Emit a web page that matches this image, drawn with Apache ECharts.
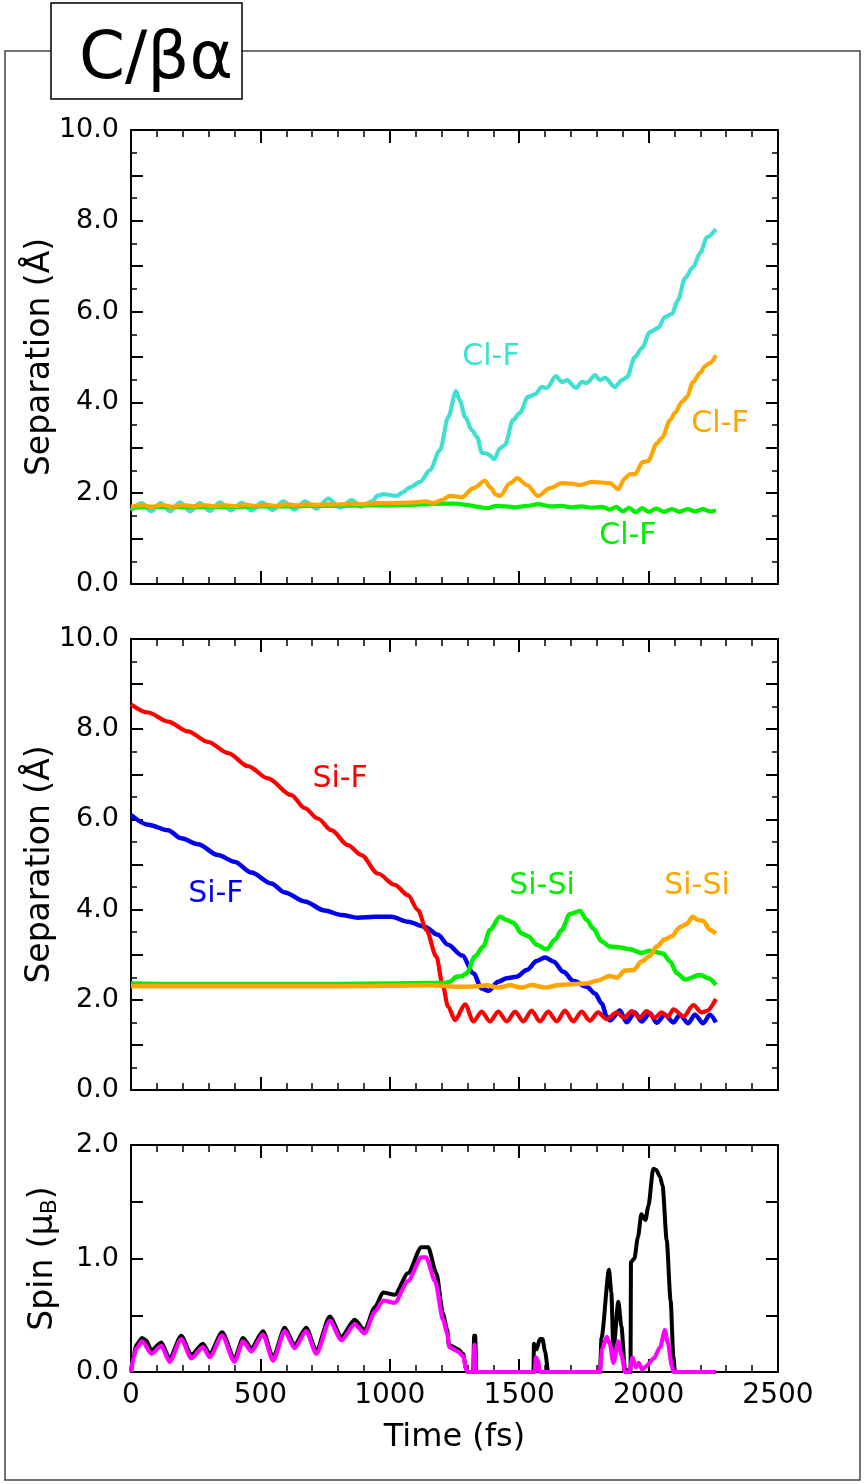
<!DOCTYPE html>
<html lang="en">
<head>
<meta charset="UTF-8">
<title>C/βα</title>
<style>
  html, body { margin: 0; padding: 0; background: #fff; }
  #chart { width: 864px; height: 1484px; }
</style>
</head>
<body>
<div id="chart"></div>
<script src="https://cdn.jsdelivr.net/npm/echarts@6.0.0/dist/echarts.min.js"></script>
<script>
// time in fs, separation in Å, spin in μB
var timeTicks = [0, 500, 1000, 1500, 2000, 2500];

// top panel: Cl-F separations
var clfCyan = [[0,1.62],[41,1.78],[78,1.60],[115,1.78],[152,1.60],[189,1.80],[228,1.60],[266,1.78],[305,1.61],[344,1.80],[386,1.62],[428,1.79],[466,1.62],[505,1.80],[547,1.63],[589,1.82],[630,1.64],[672,1.82],[717,1.66],[762,1.88],[808,1.68],[853,1.85],[890,1.70],[930,1.82],[955,1.95],[975,1.98],[1000,1.96],[1027,1.94],[1050,2.02],[1078,2.13],[1117,2.25],[1155,2.51],[1194,2.95],[1226,3.68],[1256,4.25],[1270,4.05],[1291,3.68],[1317,3.39],[1337,3.24],[1356,2.89],[1370,2.88],[1380,2.86],[1403,2.75],[1426,2.99],[1445,3.06],[1476,3.61],[1503,3.77],[1534,4.12],[1561,4.18],[1588,4.34],[1607,4.32],[1642,4.58],[1665,4.45],[1685,4.49],[1719,4.32],[1743,4.45],[1762,4.43],[1793,4.60],[1812,4.49],[1832,4.54],[1870,4.34],[1897,4.49],[1917,4.56],[1947,5.00],[1975,5.20],[2005,5.55],[2037,5.64],[2063,5.88],[2090,5.95],[2114,6.26],[2141,6.74],[2172,6.98],[2199,7.29],[2226,7.64],[2260,7.82]];
var clfGreen = [[0,1.68],[100,1.70],[200,1.69],[300,1.70],[400,1.70],[500,1.71],[600,1.71],[700,1.72],[800,1.72],[900,1.73],[1000,1.73],[1100,1.75],[1200,1.77],[1259,1.77],[1300,1.74],[1340,1.70],[1375,1.67],[1414,1.72],[1450,1.71],[1484,1.69],[1530,1.72],[1573,1.76],[1620,1.71],[1665,1.72],[1700,1.69],[1740,1.71],[1780,1.68],[1820,1.70],[1850,1.64],[1875,1.70],[1900,1.60],[1925,1.68],[1950,1.58],[1975,1.67],[2000,1.59],[2030,1.66],[2060,1.59],[2090,1.65],[2120,1.59],[2150,1.65],[2180,1.60],[2210,1.65],[2235,1.60],[2260,1.62]];
var clfOrange = [[0,1.70],[40,1.74],[80,1.70],[120,1.74],[160,1.70],[200,1.74],[240,1.71],[280,1.74],[320,1.71],[360,1.74],[400,1.71],[440,1.75],[480,1.72],[520,1.75],[560,1.72],[600,1.76],[640,1.73],[680,1.76],[720,1.74],[760,1.76],[800,1.75],[850,1.77],[900,1.76],[950,1.78],[1000,1.78],[1050,1.79],[1100,1.80],[1140,1.82],[1167,1.78],[1200,1.85],[1233,1.94],[1255,1.93],[1278,1.91],[1323,2.11],[1368,2.27],[1390,2.12],[1410,1.97],[1426,1.94],[1465,2.22],[1492,2.33],[1530,2.18],[1573,1.94],[1619,2.11],[1665,2.22],[1700,2.21],[1735,2.18],[1781,2.25],[1851,2.22],[1882,2.09],[1909,2.33],[1928,2.42],[1947,2.42],[1978,2.69],[1998,2.71],[2032,3.10],[2052,3.22],[2083,3.61],[2102,3.77],[2129,4.01],[2148,4.12],[2172,4.45],[2199,4.65],[2218,4.80],[2237,4.87],[2260,5.04]];

// middle panel: Si-F and Si-Si separations
var sifBlue = [[0,6.10],[66,5.88],[143,5.76],[194,5.58],[259,5.45],[336,5.21],[400,5.06],[465,4.82],[542,4.58],[594,4.38],[671,4.18],[748,3.98],[813,3.88],[877,3.82],[942,3.84],[1006,3.84],[1070,3.73],[1135,3.62],[1186,3.44],[1225,3.22],[1280,2.98],[1323,2.59],[1355,2.25],[1381,2.20],[1419,2.40],[1452,2.48],[1490,2.51],[1529,2.66],[1568,2.86],[1600,2.94],[1632,2.85],[1671,2.62],[1709,2.42],[1761,2.29],[1793,2.14],[1819,1.92],[1838,1.63],[1851,1.54],[1889,1.76],[1915,1.50],[1947,1.72],[1973,1.52],[2005,1.70],[2031,1.49],[2063,1.67],[2096,1.50],[2121,1.67],[2153,1.48],[2179,1.67],[2211,1.48],[2237,1.67],[2260,1.50]];
var sifRed = [[0,8.55],[66,8.37],[143,8.17],[220,7.95],[297,7.72],[375,7.47],[452,7.18],[529,6.91],[619,6.54],[671,6.25],[722,6.02],[774,5.76],[838,5.43],[890,5.21],[954,4.80],[1019,4.55],[1070,4.32],[1109,3.99],[1141,3.55],[1180,2.96],[1203,2.37],[1225,1.85],[1252,1.55],[1291,1.90],[1323,1.52],[1355,1.74],[1387,1.52],[1419,1.74],[1452,1.52],[1484,1.74],[1516,1.52],[1548,1.76],[1580,1.52],[1612,1.74],[1645,1.52],[1677,1.76],[1709,1.52],[1741,1.74],[1773,1.54],[1805,1.72],[1838,1.57],[1877,1.72],[1905,1.60],[1935,1.75],[1964,1.60],[1993,1.75],[2022,1.60],[2051,1.72],[2075,1.62],[2096,1.79],[2135,1.63],[2173,1.88],[2205,1.72],[2224,1.75],[2260,2.02]];
var sisiGreen = [[0,2.36],[200,2.35],[400,2.35],[600,2.35],[800,2.35],[1000,2.36],[1150,2.37],[1212,2.37],[1233,2.40],[1257,2.51],[1280,2.53],[1297,2.59],[1329,2.96],[1361,3.18],[1387,3.55],[1426,3.84],[1452,3.77],[1477,3.71],[1510,3.47],[1535,3.41],[1568,3.22],[1606,3.12],[1638,3.33],[1664,3.55],[1696,3.90],[1735,3.97],[1761,3.77],[1786,3.58],[1819,3.29],[1851,3.18],[1889,3.16],[1928,3.12],[1973,3.04],[2005,3.09],[2057,3.02],[2083,2.85],[2109,2.59],[2141,2.45],[2199,2.55],[2231,2.48],[2260,2.33]];
var sisiOrange = [[0,2.30],[200,2.30],[400,2.30],[600,2.30],[800,2.30],[1000,2.31],[1150,2.32],[1200,2.31],[1250,2.29],[1300,2.29],[1340,2.30],[1374,2.32],[1419,2.27],[1465,2.32],[1510,2.27],[1548,2.33],[1600,2.27],[1658,2.33],[1709,2.35],[1761,2.36],[1799,2.42],[1851,2.53],[1877,2.49],[1909,2.65],[1941,2.66],[1973,2.85],[2005,2.97],[2031,3.18],[2063,3.34],[2089,3.41],[2121,3.61],[2147,3.68],[2170,3.84],[2192,3.77],[2211,3.75],[2237,3.55],[2260,3.47]];

// bottom panel: spin
var spinBlack = [[0,0],[10,0.15],[21,0.24],[43,0.30],[58,0.28],[79,0.19],[117,0.26],[149,0.12],[194,0.32],[233,0.15],[278,0.25],[304,0.16],[352,0.35],[400,0.12],[433,0.30],[465,0.21],[510,0.36],[549,0.13],[594,0.39],[632,0.24],[677,0.39],[716,0.19],[768,0.49],[813,0.31],[864,0.46],[903,0.37],[942,0.57],[974,0.70],[1019,0.68],[1070,0.87],[1122,1.10],[1148,1.10],[1180,0.87],[1206,0.51],[1222,0.37],[1228,0.24],[1264,0.20],[1283,0.16],[1296,0.02],[1300,0],[1322,0],[1326,0.32],[1330,0.32],[1334,0],[1555,0],[1557,0.25],[1567,0.20],[1580,0.29],[1590,0.29],[1600,0.18],[1612,0],[1812,0],[1818,0.30],[1847,0.90],[1856,0.70],[1864,0.19],[1883,0.62],[1895,0.40],[1909,0.02],[1930,0],[1932,0.97],[1945,1.00],[1959,1.19],[1972,1.39],[1988,1.34],[1999,1.46],[2018,1.79],[2030,1.78],[2044,1.72],[2054,1.64],[2070,1.16],[2085,0.63],[2096,0.13],[2102,0],[2260,0]];
var spinMagenta = [[0,0],[10,0.13],[21,0.21],[43,0.27],[79,0.16],[117,0.23],[149,0.09],[194,0.29],[233,0.12],[278,0.22],[304,0.13],[352,0.32],[400,0.09],[433,0.27],[465,0.18],[510,0.33],[549,0.10],[594,0.36],[632,0.21],[677,0.36],[716,0.16],[768,0.45],[813,0.28],[864,0.42],[903,0.34],[942,0.53],[974,0.63],[1019,0.61],[1070,0.80],[1122,1.01],[1140,1.01],[1175,0.80],[1206,0.46],[1222,0.34],[1230,0.22],[1264,0.18],[1283,0.14],[1296,0.02],[1300,0],[1323,0],[1327,0.24],[1331,0],[1560,0],[1565,0.13],[1572,0.10],[1580,0],[1812,0],[1820,0.20],[1838,0.31],[1850,0.25],[1864,0.08],[1883,0.27],[1895,0.15],[1909,0],[1925,0],[1938,0.13],[1950,0.04],[1962,0.08],[1975,0.02],[1990,0.05],[2020,0.12],[2045,0.22],[2063,0.37],[2075,0.25],[2090,0.05],[2096,0],[2260,0]];

// labels written inside the plots: text, time, value, colour, panel
var curveLabels = [
    ['Cl-F', 1391, 5.0, '#40e0d0', 0],
    ['Cl-F', 2276, 3.52, '#ffa500', 0],
    ['Cl-F', 1920, 1.06, '#00ee00', 0],
    ['Si-F', 808, 6.9, '#ff0000', 1],
    ['Si-F', 328, 4.35, '#0000ee', 1],
    ['Si-Si', 1588, 4.52, '#00ee00', 1],
    ['Si-Si', 2187, 4.52, '#ffa500', 1]
];

var FONT = 'DejaVu Sans';

var grids = [
    { left: 131, top: 130, width: 647, height: 454 },
    { left: 131, top: 639, width: 647, height: 451 },
    { left: 131, top: 1145, width: 647, height: 227 }
];

function makeX(g, pos, showLabel) {
    return {
        type: 'value', gridIndex: g, position: pos,
        min: timeTicks[0], max: timeTicks[timeTicks.length - 1], interval: timeTicks[1] - timeTicks[0],
        axisLine: { show: true, onZero: false, lineStyle: { color: '#000', width: 2 } },
        axisTick: { show: true, inside: true, length: 13, lineStyle: { color: '#000', width: 2 } },
        minorTick: { show: true, splitNumber: 5, length: 7, lineStyle: { color: '#000', width: 1.5 } },
        splitLine: { show: false },
        axisLabel: { show: showLabel, color: '#000', fontSize: 28, fontFamily: FONT, margin: 10,
            showMinLabel: true, showMaxLabel: true, formatter: function (v) { return String(v); } },
        name: (showLabel ? 'Time (fs)' : ''), nameLocation: 'middle', nameGap: 50,
        nameTextStyle: { color: '#000', fontSize: 32, fontFamily: FONT }
    };
}

function makeY(g, pos, max, interval, minor, labelFn, name, gap) {
    return {
        type: 'value', gridIndex: g, position: pos, min: 0, max: max, interval: interval,
        axisLine: { show: true, onZero: false, lineStyle: { color: '#000', width: 2 } },
        axisTick: { show: true, inside: true, length: 12, lineStyle: { color: '#000', width: 2 } },
        minorTick: { show: minor > 0, splitNumber: minor || 2, length: 6, lineStyle: { color: '#000', width: 1.5 } },
        splitLine: { show: false },
        axisLabel: { show: pos === 'left', color: '#000', fontSize: 27, fontFamily: FONT, margin: 12,
            showMinLabel: true, showMaxLabel: true, formatter: labelFn },
        name: (pos === 'left' ? name : ''), nameLocation: 'middle', nameGap: gap || 74,
        nameMoveOverlap: false,
        nameTextStyle: {
            color: '#000', fontSize: 33, fontFamily: FONT,
            rich: {
                a: { fontSize: 33, fontFamily: FONT, color: '#000' },
                b: { fontSize: 22, fontFamily: FONT, color: '#000', verticalAlign: 'bottom', padding: [14, 0, 0, 0] }
            }
        }
    };
}

var sepLabel = function (v) { return (Math.round(v) % 2 === 0) ? v.toFixed(1) : ''; };
var spinLabel = function (v) { return (Math.abs(v - Math.round(v)) < 1e-6) ? v.toFixed(1) : ''; };

function line(g, data, color, width, smooth) {
    return {
        type: 'line', xAxisIndex: 2 * g, yAxisIndex: 2 * g, data: data,
        showSymbol: false, smooth: smooth, smoothMonotone: 'x', animation: false,
        lineStyle: { color: color, width: width }, silent: true
    };
}

var chart = echarts.init(document.getElementById('chart'), null, { renderer: 'canvas' });

var option = {
    backgroundColor: '#fff',
    animation: false,
    grid: grids,
    xAxis: [
        makeX(0, 'bottom', false), makeX(0, 'top', false),
        makeX(1, 'bottom', false), makeX(1, 'top', false),
        makeX(2, 'bottom', true), makeX(2, 'top', false)
    ],
    yAxis: [
        makeY(0, 'left', 10, 1, 2, sepLabel, 'Separation (Å)'), makeY(0, 'right', 10, 1, 2, sepLabel, ''),
        makeY(1, 'left', 10, 1, 2, sepLabel, 'Separation (Å)'), makeY(1, 'right', 10, 1, 2, sepLabel, ''),
        makeY(2, 'left', 2, 0.5, 0, spinLabel, '{a|Spin (μ}{b|B}{a|)}', 70), makeY(2, 'right', 2, 0.5, 0, spinLabel, '')
    ],
    series: [
        line(0, clfCyan, '#40e0d0', 4.2, 0.3),
        line(0, clfGreen, '#00ee00', 4.2, 0.3),
        line(0, clfOrange, '#ffa500', 4.2, 0.3),
        line(1, sifBlue, '#0000ee', 4.5, 0.3),
        line(1, sifRed, '#ff0000', 4.2, 0.3),
        line(1, sisiGreen, '#00ee00', 4.5, 0.3),
        line(1, sisiOrange, '#ffa500', 4.5, 0.3),
        line(2, spinBlack, '#000000', 4, 0.25),
        line(2, spinMagenta, '#ff00ff', 4.2, 0.25)
    ]
};
chart.setOption(option);

// 外框 + 标题框 + 曲线标注
var graphics = [
    { type: 'rect', z: 0, shape: { x: 5, y: 51, width: 855, height: 1429 },
      style: { fill: 'none', stroke: '#444', lineWidth: 1.5 } },
    { type: 'rect', z: 10, shape: { x: 51, y: 3, width: 191, height: 96 },
      style: { fill: '#fff', stroke: '#000', lineWidth: 1.5 } },
    { type: 'text', z: 11, x: 79, y: 61,
      style: { text: 'C/βα', fill: '#000', font: '66px "DejaVu Sans"', align: 'left', verticalAlign: 'middle' } }
];
curveLabels.forEach(function (l) {
    var p = chart.convertToPixel({ gridIndex: l[4] }, [l[1], l[2]]);
    graphics.push({ type: 'text', z: 12, x: p[0], y: p[1],
        style: { text: l[0], fill: l[3], font: '30px "DejaVu Sans"', align: 'center', verticalAlign: 'middle' } });
});
chart.setOption({ graphic: graphics });
</script>
</body>
</html>
